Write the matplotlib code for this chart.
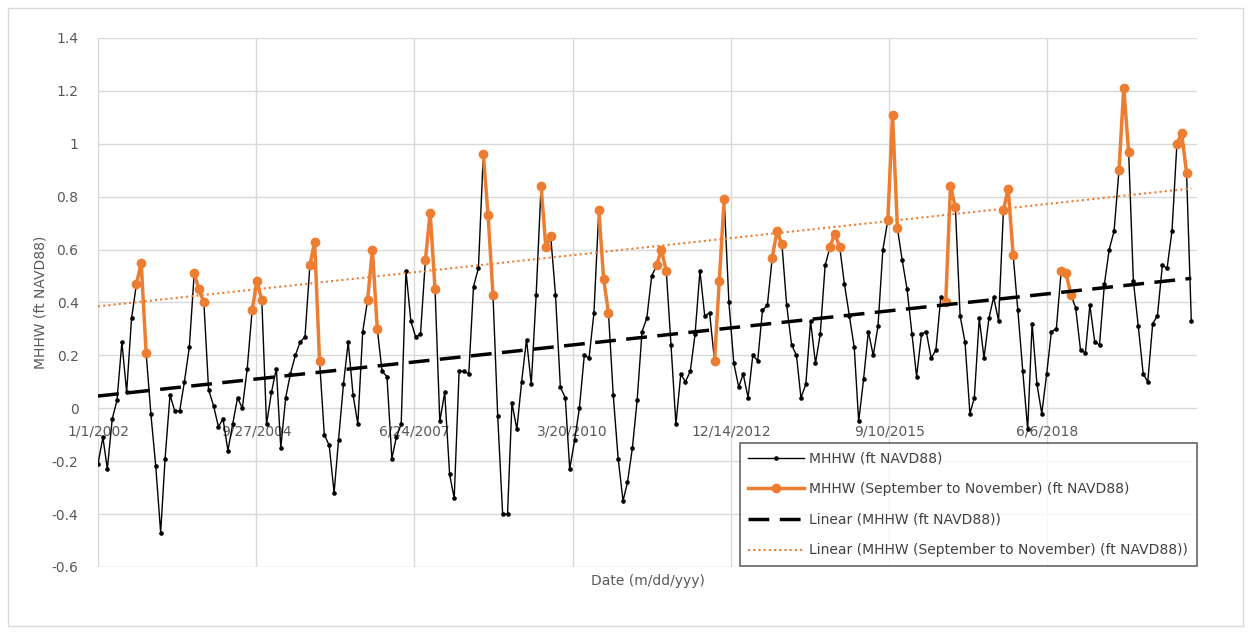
import numpy as np
import pandas as pd
import matplotlib
matplotlib.use('Agg')
import matplotlib.pyplot as plt
import matplotlib.dates as mdates
from matplotlib.patches import Rectangle

# monthly MHHW (ft NAVD88), Jan..Dec of each year
mhhw_2002 = [-0.21, -0.11, -0.23, -0.04, 0.03, 0.25, 0.06, 0.34, 0.47, 0.55, 0.21, -0.02]
mhhw_2003 = [-0.22, -0.47, -0.19, 0.05, -0.01, -0.01, 0.10, 0.23, 0.51, 0.45, 0.40, 0.07]
mhhw_2004 = [0.01, -0.07, -0.04, -0.16, -0.06, 0.04, 0.00, 0.15, 0.37, 0.48, 0.41, -0.06]
mhhw_2005 = [0.06, 0.15, -0.15, 0.04, 0.13, 0.20, 0.25, 0.27, 0.54, 0.63, 0.18, -0.10]
mhhw_2006 = [-0.14, -0.32, -0.12, 0.09, 0.25, 0.05, -0.06, 0.29, 0.41, 0.60, 0.30, 0.14]
mhhw_2007 = [0.12, -0.19, -0.11, -0.06, 0.52, 0.33, 0.27, 0.28, 0.56, 0.74, 0.45, -0.05]
mhhw_2008 = [0.06, -0.25, -0.34, 0.14, 0.14, 0.13, 0.46, 0.53, 0.96, 0.73, 0.43, -0.03]
mhhw_2009 = [-0.40, -0.40, 0.02, -0.08, 0.10, 0.26, 0.09, 0.43, 0.84, 0.61, 0.65, 0.43]
mhhw_2010 = [0.08, 0.04, -0.23, -0.12, 0.00, 0.20, 0.19, 0.36, 0.75, 0.49, 0.36, 0.05]
mhhw_2011 = [-0.19, -0.35, -0.28, -0.15, 0.03, 0.29, 0.34, 0.50, 0.54, 0.60, 0.52, 0.24]
mhhw_2012 = [-0.06, 0.13, 0.10, 0.14, 0.28, 0.52, 0.35, 0.36, 0.18, 0.48, 0.79, 0.40]
mhhw_2013 = [0.17, 0.08, 0.13, 0.04, 0.20, 0.18, 0.37, 0.39, 0.57, 0.67, 0.62, 0.39]
mhhw_2014 = [0.24, 0.20, 0.04, 0.09, 0.33, 0.17, 0.28, 0.54, 0.61, 0.66, 0.61, 0.47]
mhhw_2015 = [0.35, 0.23, -0.05, 0.11, 0.29, 0.20, 0.31, 0.60, 0.71, 1.11, 0.68, 0.56]
mhhw_2016 = [0.45, 0.28, 0.12, 0.28, 0.29, 0.19, 0.22, 0.42, 0.40, 0.84, 0.76, 0.35]
mhhw_2017 = [0.25, -0.02, 0.04, 0.34, 0.19, 0.34, 0.42, 0.33, 0.75, 0.83, 0.58, 0.37]
mhhw_2018 = [0.14, -0.08, 0.32, 0.09, -0.02, 0.13, 0.29, 0.30, 0.52, 0.51, 0.43, 0.38]
mhhw_2019 = [0.22, 0.21, 0.39, 0.25, 0.24, 0.47, 0.60, 0.67, 0.90, 1.21, 0.97, 0.48]
mhhw_2020 = [0.31, 0.13, 0.10, 0.32, 0.35, 0.54, 0.53, 0.67, 1.00, 1.04, 0.89, 0.33]

tick_labels = ['1/1/2002', '9/27/2004', '6/24/2007', '3/20/2010',
               '12/14/2012', '9/10/2015', '6/6/2018']
y_ticks = [-0.6, -0.4, -0.2, 0, 0.2, 0.4, 0.6, 0.8, 1.0, 1.2, 1.4]
y_tick_labels = ['-0.6', '-0.4', '-0.2', '0', '0.2', '0.4', '0.6', '0.8', '1', '1.2', '1.4']

ORANGE = '#ED7D31'
GRID = '#d9d9d9'
TXT = '#595959'

years = [mhhw_2002, mhhw_2003, mhhw_2004, mhhw_2005, mhhw_2006, mhhw_2007,
         mhhw_2008, mhhw_2009, mhhw_2010, mhhw_2011, mhhw_2012, mhhw_2013,
         mhhw_2014, mhhw_2015, mhhw_2016, mhhw_2017, mhhw_2018, mhhw_2019,
         mhhw_2020]
mhhw = np.concatenate([np.array(y, dtype=float) for y in years])
dates = pd.date_range('2002-01-01', periods=len(mhhw), freq='MS')
fall = np.where(dates.month.isin([9, 10, 11]), mhhw, np.nan)

plt.rcParams['font.family'] = ['DejaVu Sans']

fig = plt.figure(figsize=(12.5, 6.32), dpi=100)
fig.patches.append(Rectangle((0.006, 0.01), 0.988, 0.978, transform=fig.transFigure,
                             fill=False, edgecolor=GRID, linewidth=1))
ax = fig.add_axes([0.0784, 0.1029, 0.8792, 0.837])

x0 = pd.Timestamp('2002-01-01')
ax.set_xlim(mdates.date2num(x0), mdates.date2num(x0 + pd.Timedelta(days=6945)))
ax.set_ylim(-0.6, 1.4)

tick_dates = [x0 + pd.Timedelta(days=1000 * k) for k in range(len(tick_labels))]
ax.set_xticks(mdates.date2num(tick_dates))
ax.set_xticklabels([])
ax.set_yticks(y_ticks)
ax.set_yticklabels(y_tick_labels, color=TXT, fontsize=10)
ax.tick_params(length=0, pad=14)
ax.grid(True, color=GRID, linewidth=1)
ax.set_axisbelow(True)
for s in ax.spines.values():
    s.set_visible(False)

# date labels sit just under the zero line, like Excel's axis crossing
for d, lab in zip(tick_dates, tick_labels):
    ax.annotate(lab, (mdates.date2num(d), 0), xytext=(0, -17), textcoords='offset points',
                ha='center', va='center', color=TXT, fontsize=10)

ax.plot(dates, mhhw, '-', color='black', linewidth=1, marker='o', markersize=2.3,
        label='MHHW (ft NAVD88)', zorder=3)
ax.plot(dates, fall, '-', color=ORANGE, linewidth=2.5, marker='o', markersize=6,
        label='MHHW (September to November) (ft NAVD88)', zorder=4)

# linear trendlines
t = mdates.date2num(dates)
p_all = np.polyfit(t, mhhw, 1)
ok = ~np.isnan(fall)
p_fall = np.polyfit(t[ok], fall[ok], 1)
tl = np.array([t[0], t[-1]])
ax.plot(tl, np.polyval(p_all, tl), color='black', linewidth=2.5, dashes=(6, 3),
        label='Linear (MHHW (ft NAVD88))', zorder=5)
ax.plot(tl, np.polyval(p_fall, tl), color=ORANGE, linewidth=1.5, linestyle=(0, (1, 1.5)),
        label='Linear (MHHW (September to November) (ft NAVD88))', zorder=5)

ax.set_ylabel('MHHW (ft NAVD88)', color=TXT, fontsize=10, labelpad=3)
ax.set_xlabel('Date (m/dd/yyy)', color=TXT, fontsize=10, labelpad=-9)

leg = ax.legend(loc='upper left', bbox_to_anchor=(0.592, 0.299), bbox_transform=fig.transFigure,
                fontsize=10, frameon=True, fancybox=False, handlelength=4, labelspacing=1.2,
                borderpad=0.6, handletextpad=0.4, borderaxespad=0)
leg.get_frame().set_edgecolor('#404040')
leg.get_frame().set_linewidth(1.2)
for txt in leg.get_texts():
    txt.set_color('#404040')

fig.savefig('out.png', dpi=100)
